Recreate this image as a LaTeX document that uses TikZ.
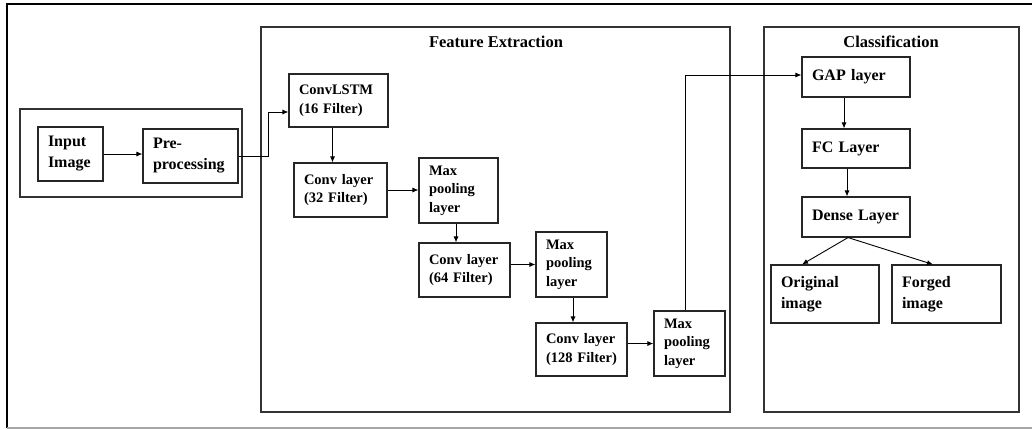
\documentclass[tikz,border=0pt]{standalone}
\usepackage{fontspec}
\setmainfont{Liberation Serif}
\usetikzlibrary{arrows.meta}
\tikzset{
	blk/.style={draw=black!85, line width=1.1pt, align=left, inner xsep=10pt, inner ysep=0pt,
		font=\fontsize{14.5}{18.5}\selectfont\bfseries},
	bigblk/.style={blk, font=\fontsize{16}{21}\selectfont\bfseries},
	frame/.style={draw=black!80, line width=1.1pt},
	arr/.style={-{Latex[length=6pt,width=5pt]}, line width=0.9pt},
	ttl/.style={font=\fontsize{16.5}{19}\selectfont\bfseries}
}

\begin{document}
\begin{tikzpicture}[x=1pt,y=-1pt]
			%%%%% START %%%%%
			\useasboundingbox (0,0) rectangle (1032,429);
			
			\draw[line width=2.2pt] (7,428) -- (7,4) -- (1032,4);
			\draw[black!35, line width=1.2pt] (7,428) -- (1032,428);
			
			\draw[frame] (20,109) rectangle (242,197);
			\draw[frame] (261,27) rectangle (730,412);
			\draw[frame] (764,27) rectangle (1019,412);
			
			\node[ttl] (fetitle) at (496,42) {Feature Extraction};
			\node[ttl] (cltitle) at (891,42) {Classification};
			
			\node[bigblk, text width=45pt, minimum height=54pt] (inimg) at (70.5,154) {Input\\Image};
			\node[bigblk, text width=75pt, minimum height=54pt] (prep) at (190.5,156) {Pre-\\processing};
			
			\node[blk, text width=79pt, minimum height=53pt] (convlstm) at (338.5,100.5) {ConvLSTM\\(16 Filter)};
			\node[blk, text width=73pt, minimum height=54pt] (conv32) at (340.5,190) {Conv layer\\(32 Filter)};
			\node[blk, text width=59pt, minimum height=65pt] (pool1) at (458.5,190.5) {Max\\pooling\\layer};
			\node[blk, text width=71pt, minimum height=54pt] (conv64) at (464.5,270) {Conv layer\\(64 Filter)};
			\node[blk, text width=51pt, minimum height=65pt] (pool2) at (571.5,264.5) {Max\\pooling\\layer};
			\node[blk, text width=71pt, minimum height=53pt] (conv128) at (581.5,349.5) {Conv layer\\(128 Filter)};
			\node[blk, text width=51pt, minimum height=65pt] (pool3) at (689.5,343.5) {Max\\pooling\\layer};
			
			\node[bigblk, text width=88pt, minimum height=40pt] (gap) at (856,77) {GAP layer};
			\node[bigblk, text width=88pt, minimum height=39pt] (fc) at (856,148.5) {FC Layer};
			\node[bigblk, text width=88pt, minimum height=40pt] (dense) at (856,217) {Dense Layer};
			\node[bigblk, text width=88pt, minimum height=58pt] (orig) at (825,294) {Original\\image};
			\node[bigblk, text width=89pt, minimum height=58pt] (forged) at (946.5,294) {Forged\\image};
			
			\coordinate (bend) at (268,156);
			\draw[arr] (inimg.east) -- (inimg.east -| prep.west);
			\draw[arr] (prep.east) -- (bend) |- ([yshift=-11.5pt]convlstm.west);
			\draw[arr] ([xshift=-6pt]convlstm.south) -- ([xshift=-6pt]convlstm.south |- conv32.north);
			\draw[arr] (conv32.east) -- (conv32.east -| pool1.west);
			\draw[arr] ([xshift=-2.5pt]pool1.south) -- ([xshift=-2.5pt]pool1.south |- conv64.north);
			\draw[arr] (pool2.west -| conv64.east) -- (pool2.west);
			\draw[arr] ([xshift=1.5pt]pool2.south) -- ([xshift=1.5pt]pool2.south |- conv128.north);
			\draw[arr] (pool3.west -| conv128.east) -- (pool3.west);
			\draw[arr] ([xshift=-4.5pt]pool3.north) |- ([yshift=2pt]gap.west);
			
			\draw[arr] ([xshift=-12pt]gap.south) -- ([xshift=-12pt]gap.south |- fc.north);
			\draw[arr] ([xshift=-9pt]fc.south) -- ([xshift=-9pt]fc.south |- dense.north);
			\draw[arr] ([xshift=-8pt]dense.south) -- ([xshift=-23pt]orig.north);
			\draw[arr] ([xshift=-8pt]dense.south) -- ([xshift=-13.5pt]forged.north);
			
			%%%%% END %%%%%
		\end{tikzpicture}
\end{document}
